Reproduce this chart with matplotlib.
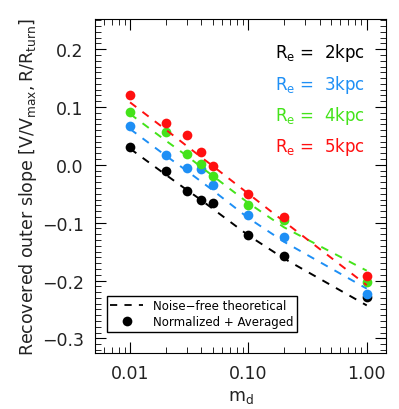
import numpy as np
import matplotlib
matplotlib.use('Agg')
import matplotlib.pyplot as plt
from matplotlib.ticker import MultipleLocator, LogLocator, NullFormatter
from matplotlib.lines import Line2D

md = [0.01, 0.02, 0.03, 0.04, 0.05, 0.1, 0.2, 1.0]

# measured points (normalized + averaged)
pts_2kpc = [0.030, -0.011, -0.045, -0.061, -0.066, -0.121, -0.157, -0.229]
pts_3kpc = [0.068, 0.017, -0.006, -0.008, -0.034, -0.087, -0.124, -0.223]
pts_4kpc = [0.091, 0.056, 0.018, 0.001, -0.020, -0.070, -0.095, -0.202]
pts_5kpc = [0.121, 0.072, 0.052, 0.022, -0.002, -0.051, -0.090, -0.193]

# noise-free theoretical curves
th_2kpc = [0.028, -0.017, -0.043, -0.061, -0.076, -0.122, -0.162, -0.243]
th_3kpc = [0.062, 0.016, -0.010, -0.029, -0.044, -0.092, -0.133, -0.214]
th_4kpc = [0.088, 0.042, 0.016, -0.004, -0.019, -0.066, -0.108, -0.183]
th_5kpc = [0.108, 0.061, 0.033, 0.013, -0.002, -0.050, -0.098, -0.208]

labels = ['2kpc', '3kpc', '4kpc', '5kpc']
colors = ['black', '#1e8ff5', '#44e31a', '#ff1010']

plt.rcParams['font.family'] = 'DejaVu Sans'
plt.rcParams['mathtext.fontset'] = 'dejavusans'

fig = plt.figure(figsize=(3.99, 4.10), dpi=100)
ax = fig.add_axes([0.238, 0.137, 0.729, 0.814])

for th, pts, c in zip([th_2kpc, th_3kpc, th_4kpc, th_5kpc],
                      [pts_2kpc, pts_3kpc, pts_4kpc, pts_5kpc], colors):
    ax.plot(md, th, ls=(0, (4, 4)), color=c, lw=1.4)
    ax.plot(md, pts, 'o', color=c, ms=7, mec='none')

ax.set_xscale('log')
ax.set_xlim(0.00505, 1.45)
ax.set_ylim(-0.325, 0.252)

ax.set_xticks([0.01, 0.1, 1.0])
ax.set_xticklabels(['0.01', '0.10', '1.00'])
ax.xaxis.set_minor_locator(LogLocator(base=10, subs=np.arange(2, 10)))
ax.xaxis.set_minor_formatter(NullFormatter())
ax.yaxis.set_minor_locator(MultipleLocator(0.01))
ax.set_yticks([-0.3, -0.2, -0.1, 0.0, 0.1, 0.2])
ax.set_yticklabels(['\u22120.3', '\u22120.2', '\u22120.1', '0.0', '0.1', '0.2'])

ax.tick_params(which='both', direction='in', top=True, right=True, labelsize=12.5,
               pad=8, labelcolor='#222222')
ax.tick_params(which='major', length=8, width=0.8)
ax.tick_params(which='minor', length=4, width=0.6)

ax.set_xlabel(r'm$_{\rm d}$', fontsize=12.5, color='#222222')
ax.set_ylabel(r'Recovered outer slope $\left[\mathrm{V/V_{max}, R/R_{turn}}\right]$',
              fontsize=12.5, labelpad=2, color='#222222')

for i, (lab, c) in enumerate(zip(labels, colors)):
    ax.text(0.93, 0.90 - i * 0.093, r'R$_{\rm e}$ =  ' + lab, color=c,
            transform=ax.transAxes, ha='right', va='center', fontsize=12)

handles = [Line2D([], [], color='black', ls=(0, (4, 4)), lw=1.3),
           Line2D([], [], color='black', marker='o', ls='none', ms=7, mec='none')]
ax.legend(handles, ['Noise\u2212free theoretical', 'Normalized + Averaged'],
          loc='lower left', fontsize=8.5, frameon=True, fancybox=False,
          edgecolor='black', handlelength=2.8, borderpad=0.3, labelspacing=0.25,
          bbox_to_anchor=(0.02, 0.045), framealpha=1)

fig.savefig('out.png', dpi=100)
